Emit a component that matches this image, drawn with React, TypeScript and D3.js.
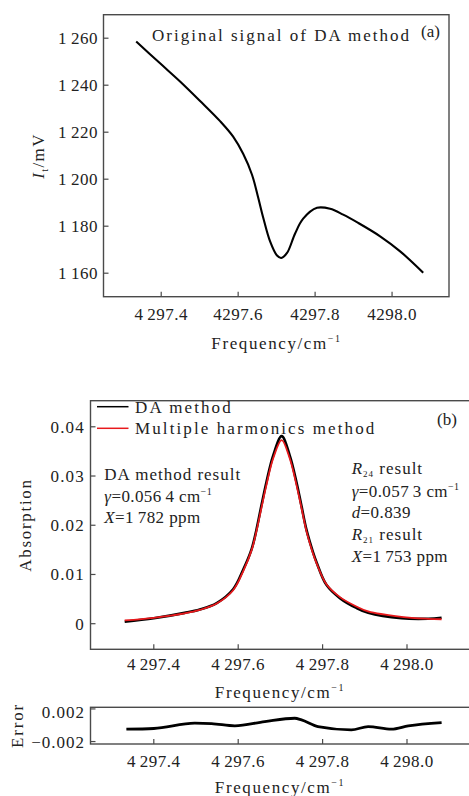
import React from 'react';
import * as d3 from 'd3';

// ---------- Panel (a): original DA signal ----------
const freqA = [4297.335, 4297.397, 4297.449, 4297.501, 4297.553, 4297.587, 4297.613, 4297.636, 4297.652, 4297.665, 4297.683, 4297.701, 4297.712, 4297.727, 4297.748, 4297.769, 4297.805, 4297.839, 4297.873, 4297.912, 4297.969, 4298.021, 4298.081];
const signalA = [1258.6, 1249.3, 1241.6, 1233.3, 1224.7, 1218.1, 1210.8, 1201.9, 1192.2, 1183.7, 1173.5, 1167.5, 1166.5, 1168.6, 1176.9, 1183.2, 1187.8, 1187.4, 1184.9, 1181.4, 1175.7, 1169.3, 1160.2];
const ticksXA = [4297.4, 4297.6, 4297.8, 4298.0];
const tickLabelsXA = ['4\u2009297.4', '4297.6', '4297.8', '4298.0'];
const ticksYA = [1160, 1180, 1200, 1220, 1240, 1260];
const tickLabelsYA = ['1\u2009160', '1\u2009180', '1\u2009200', '1\u2009220', '1\u2009240', '1\u2009260'];

// ---------- Panel (b): absorption ----------
const freqB = [4297.331, 4297.4, 4297.473, 4297.509, 4297.549, 4297.588, 4297.612, 4297.632, 4297.643, 4297.655, 4297.667, 4297.683, 4297.703, 4297.722, 4297.738, 4297.75, 4297.762, 4297.777, 4297.786, 4297.809, 4297.841, 4297.88, 4297.908, 4297.987, 4298.05, 4298.082];
const absDA = [0.0004, 0.0011, 0.0022, 0.0029, 0.0042, 0.007, 0.011, 0.0152, 0.019, 0.024, 0.0288, 0.0342, 0.0381, 0.0342, 0.0288, 0.0239, 0.019, 0.0146, 0.0124, 0.0079, 0.0052, 0.0032, 0.0022, 0.0011, 0.001, 0.0012];
const absMH = [0.00067, 0.0012, 0.0021, 0.0028, 0.0041, 0.0068, 0.0107, 0.015, 0.0187, 0.0235, 0.0282, 0.0336, 0.0373, 0.0336, 0.0282, 0.0235, 0.0187, 0.0143, 0.0122, 0.008, 0.0054, 0.0035, 0.0025, 0.0014, 0.001, 0.0009];
const ticksXB = [4297.4, 4297.6, 4297.8, 4298.0];
const tickLabelsXB = ['4\u2009297.4', '4\u2009297.6', '4\u2009297.8', '4\u2009298.0'];
const ticksYB = [0, 0.01, 0.02, 0.03, 0.04];
const tickLabelsYB = ['0', '0.01', '0.02', '0.03', '0.04'];
const legendNames = ['DA method', 'Multiple harmonics method'];
const legendColors = ['#000000', '#e8191c'];

// ---------- Panel (c): error ----------
const freqE = [4297.335, 4297.4, 4297.497, 4297.537, 4297.592, 4297.663, 4297.734, 4297.75, 4297.789, 4297.868, 4297.908, 4297.963, 4298.003, 4298.082];
const errE = [-0.00048, -0.0004, 0.00025, 0.0002, -0.00008, 0.00045, 0.00086, 0.00065, -0.00017, -0.00057, -0.00017, -0.00048, -0.00008, 0.00032];
const ticksYE = [-0.002, 0.002];
const tickLabelsYE = ['\u22120.002', '0.002'];

const FONT = "'Liberation Serif', 'Times New Roman', serif";
const FRAME = '#4a4a4a';

export default function App() {
  const W = 469, H = 796;

  const xA = d3.scaleLinear().domain([4297.25, 4298.148]).range([103.5, 449]);
  const yA = d3.scaleLinear().domain([1150, 1270]).range([296.7, 14.7]);

  const xB = d3.scaleLinear().domain([4297.25, 4298.15]).range([90.5, 470.3]);
  const yB = d3.scaleLinear().domain([-0.0052, 0.0453]).range([649.3, 400.7]);
  const yE = d3.scaleLinear().domain([-0.0023, 0.0022]).range([744, 707.3]);

  const smooth = d3.curveCatmullRom.alpha(0.5);
  const lineA = d3.line<number>().x((_, i) => xA(freqA[i])).y((d) => yA(d)).curve(smooth);
  const lineB = (vals: number[]) =>
    d3.line<number>().x((_, i) => xB(freqB[i])).y((d) => yB(d)).curve(smooth)(vals) || '';
  const lineE = d3.line<number>().x((_, i) => xB(freqE[i])).y((d) => yE(d)).curve(d3.curveMonotoneX);

  const tickLen = 5;
  const sup = (s: string) => (
    <tspan dy={-7} fontSize={10}>{s}</tspan>
  );

  const freqTitle = (cx: number, y: number) => (
    <text x={cx} y={y} textAnchor="middle" fontSize={17} style={{ letterSpacing: '1.6px' }}>
      Frequency/cm{sup('\u22121')}
    </text>
  );

  return (
    <svg width={W} height={H} viewBox={`0 0 ${W} ${H}`} style={{ position: 'absolute', left: 0, top: 0, background: '#fff' }} fontFamily={FONT} fill="#222">
      <rect x={0} y={0} width={W} height={H} fill="#fff" />

      {/* ===== Panel (a) ===== */}
      <rect x={xA.range()[0]} y={yA.range()[1]} width={xA.range()[1] - xA.range()[0]} height={yA.range()[0] - yA.range()[1]} fill="none" stroke={FRAME} strokeWidth={1.4} />
      {ticksXA.map((t, i) => (
        <g key={'xa' + i}>
          <line x1={xA(t)} x2={xA(t)} y1={yA.range()[0]} y2={yA.range()[0] - tickLen} stroke={FRAME} strokeWidth={1.2} />
          <text x={xA(t)} y={320} textAnchor="middle" fontSize={17} style={{ letterSpacing: '0.5px' }}>{tickLabelsXA[i]}</text>
        </g>
      ))}
      {ticksYA.map((t, i) => (
        <g key={'ya' + i}>
          <line x1={xA.range()[0]} x2={xA.range()[0] + tickLen} y1={yA(t)} y2={yA(t)} stroke={FRAME} strokeWidth={1.2} />
          <text x={98} y={yA(t) + 6} textAnchor="end" fontSize={17} style={{ letterSpacing: '0.5px' }}>{tickLabelsYA[i]}</text>
        </g>
      ))}
      <path d={lineA(signalA) || ''} fill="none" stroke="#000" strokeWidth={2.1} />
      <text x={152} y={41} fontSize={17} style={{ letterSpacing: '2px' }}>Original signal of DA method</text>
      <text x={421} y={37} fontSize={17}>(a)</text>
      <text transform="translate(44,156) rotate(-90)" textAnchor="middle" fontSize={17} style={{ letterSpacing: '1.4px' }}>
        <tspan fontStyle="italic">I</tspan>
        <tspan fontSize={10} dy={4}>t</tspan>
        <tspan dy={-4}>/mV</tspan>
      </text>
      {freqTitle(276.5, 349)}

      {/* ===== Panel (b) ===== */}
      <rect x={xB.range()[0]} y={yB.range()[1]} width={xB.range()[1] - xB.range()[0]} height={yB.range()[0] - yB.range()[1]} fill="none" stroke={FRAME} strokeWidth={1.4} />
      {ticksXB.map((t, i) => (
        <g key={'xb' + i}>
          <line x1={xB(t)} x2={xB(t)} y1={yB.range()[0]} y2={yB.range()[0] - tickLen} stroke={FRAME} strokeWidth={1.2} />
          <text x={xB(t)} y={670} textAnchor="middle" fontSize={17} style={{ letterSpacing: '0.5px' }}>{tickLabelsXB[i]}</text>
        </g>
      ))}
      {ticksYB.map((t, i) => (
        <g key={'yb' + i}>
          <line x1={xB.range()[0]} x2={xB.range()[0] + tickLen} y1={yB(t)} y2={yB(t)} stroke={FRAME} strokeWidth={1.2} />
          <text x={85} y={yB(t) + 6} textAnchor="end" fontSize={17} style={{ letterSpacing: '1.2px' }}>{tickLabelsYB[i]}</text>
        </g>
      ))}
      <path d={lineB(absDA)} fill="none" stroke={legendColors[0]} strokeWidth={2.6} />
      <path d={lineB(absMH)} fill="none" stroke={legendColors[1]} strokeWidth={1.8} />
      {legendNames.map((n, i) => (
        <g key={'lg' + i}>
          <line x1={97} x2={128.5} y1={406.7 + i * 21.6} y2={406.7 + i * 21.6} stroke={legendColors[i]} strokeWidth={1.5} />
          <text x={135} y={413 + i * 21.3} fontSize={17} style={{ letterSpacing: '2.1px' }}>{n}</text>
        </g>
      ))}
      <text x={437} y={425} fontSize={17}>(b)</text>

      <g fontSize={17}>
        <text x={104.3} y={480} style={{ letterSpacing: '1px' }}>DA method result</text>
        <text x={104.3} y={501.7} style={{ letterSpacing: '0.4px' }}>
          <tspan fontStyle="italic">γ</tspan>=0.056{'\u2009'}4 cm{sup('\u22121')}
        </text>
        <text x={104.3} y={522.7} style={{ letterSpacing: '0.4px' }}>
          <tspan fontStyle="italic">X</tspan>=1{'\u2009'}782 ppm
        </text>

        <text x={351.7} y={474} style={{ letterSpacing: '1px' }}>
          <tspan fontStyle="italic">R</tspan>
          <tspan fontSize={9} dy={3}>24</tspan>
          <tspan dy={-3}>{' result'}</tspan>
        </text>
        <text x={351.7} y={496.7} style={{ letterSpacing: '0.4px' }}>
          <tspan fontStyle="italic">γ</tspan>=0.057{'\u2009'}3 cm{sup('\u22121')}
        </text>
        <text x={351.7} y={517.7} style={{ letterSpacing: '0.4px' }}>
          <tspan fontStyle="italic">d</tspan>=0.839
        </text>
        <text x={351.7} y={540} style={{ letterSpacing: '1px' }}>
          <tspan fontStyle="italic">R</tspan>
          <tspan fontSize={9} dy={3}>21</tspan>
          <tspan dy={-3}>{' result'}</tspan>
        </text>
        <text x={351.7} y={561.7} style={{ letterSpacing: '0.4px' }}>
          <tspan fontStyle="italic">X</tspan>=1{'\u2009'}753 ppm
        </text>
      </g>
      <text transform="translate(31,525) rotate(-90)" textAnchor="middle" fontSize={17} style={{ letterSpacing: '1.7px' }}>Absorption</text>
      {freqTitle(280, 698)}

      {/* ===== Error panel ===== */}
      <rect x={xB.range()[0]} y={yE.range()[1]} width={xB.range()[1] - xB.range()[0]} height={yE.range()[0] - yE.range()[1]} fill="none" stroke={FRAME} strokeWidth={1.4} />
      {ticksXB.map((t, i) => (
        <g key={'xe' + i}>
          <line x1={xB(t)} x2={xB(t)} y1={yE.range()[0]} y2={yE.range()[0] - tickLen} stroke={FRAME} strokeWidth={1.2} />
          <text x={xB(t)} y={766.5} textAnchor="middle" fontSize={17} style={{ letterSpacing: '0.5px' }}>{tickLabelsXB[i]}</text>
        </g>
      ))}
      {ticksYE.map((t, i) => (
        <g key={'ye' + i}>
          <line x1={xB.range()[0]} x2={xB.range()[0] + tickLen} y1={yE(t)} y2={yE(t)} stroke={FRAME} strokeWidth={1.2} />
          <text x={85} y={t > 0 ? 717.5 : yE(t) + 6} textAnchor="end" fontSize={17} style={{ letterSpacing: '1px' }}>{tickLabelsYE[i]}</text>
        </g>
      ))}
      <path d={lineE(errE) || ''} fill="none" stroke="#000" strokeWidth={2.8} />
      <text transform="translate(23,725.5) rotate(-90)" textAnchor="middle" fontSize={17} style={{ letterSpacing: '1.8px' }}>Error</text>
      {freqTitle(280, 793)}
    </svg>
  );
}
